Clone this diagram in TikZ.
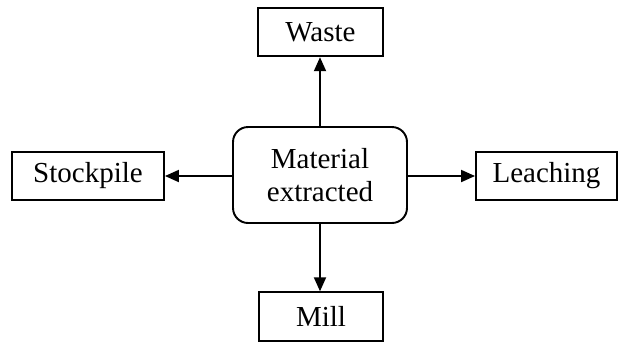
\documentclass[tikz,border=0pt]{standalone}
\usepackage{fontspec}
\setmainfont{Liberation Serif}
\usetikzlibrary{arrows.meta}

\begin{document}
\begin{tikzpicture}[x=0.02cm, y=-0.02cm, line width=1.1pt,
  font=\fontsize{16.5}{19}\selectfont,
  dest/.style={draw=black, fill=white, align=center, inner sep=0pt, minimum height=0.97cm},
  src/.style={draw=black, fill=white, rounded corners=0.3cm, align=center, inner sep=0pt,
    minimum width=3.48cm, minimum height=1.92cm},
  arr/.style={-{Triangle[length=0.28cm, width=0.24cm]}, color=black}]
\useasboundingbox (0,0) rectangle (618,343);
% ---- centre and the four destinations
\node[src] (mat) at (320,175) {Material\\ extracted};
\node[dest, minimum width=2.5cm] (waste) at (320.5,32) {Waste};
\node[dest, minimum width=3.04cm] (stock) at (88,176) {Stockpile};
\node[dest, minimum width=2.82cm] (leach) at (546.5,176) {Leaching};
\node[dest, minimum width=2.48cm] (mill) at (321,316.5) {Mill};
% ---- arrows out of the centre
\draw[arr] (mat.north) -- (mat.north |- waste.south);
\draw[arr] (mat.south) -- (mat.south |- mill.north);
\draw[arr] (mat.west |- stock.east) -- (stock.east);
\draw[arr] (mat.east |- leach.west) -- (leach.west);
\end{tikzpicture}
\end{document}
